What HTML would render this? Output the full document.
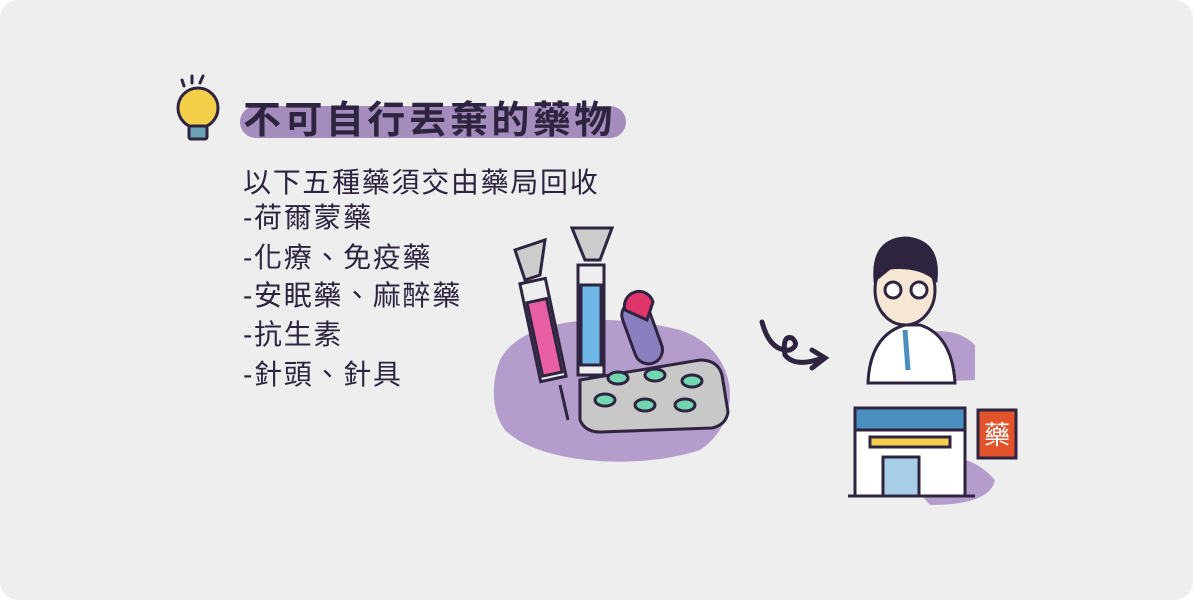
<!DOCTYPE html>
<html><head><meta charset="utf-8"><style>
body{margin:0;width:1193px;height:600px;background:#fff;overflow:hidden;font-family:"Liberation Sans","Noto Sans CJK TC",sans-serif;}
#card{position:absolute;left:0;top:0;width:1193px;height:600px;border-radius:18px;background:#efeeee;}
.t{position:absolute;color:#2e2440;white-space:nowrap;}
#title{left:243px;top:96px;font-size:38px;font-weight:bold;letter-spacing:3.4px;line-height:50px;}
#hl{position:absolute;left:240px;top:106px;width:386px;height:32px;background:#a48cbd;border-radius:16px;}
.l{left:243px;font-size:28px;line-height:36px;letter-spacing:1.7px;}
</style></head><body>
<div id="card">
<div id="hl"></div>
<div class="t" id="title">不可自行丟棄的藥物</div>
<div class="t l" style="top:165px">以下五種藥須交由藥局回收</div>
<div class="t l" style="top:200px">-荷爾蒙藥</div>
<div class="t l" style="top:240px">-化療、免疫藥</div>
<div class="t l" style="top:278px">-安眠藥、麻醉藥</div>
<div class="t l" style="top:317px">-抗生素</div>
<div class="t l" style="top:357px">-針頭、針具</div>
<svg width="1193" height="600" style="position:absolute;left:0;top:0">
<g stroke="#2e2440" stroke-width="3" stroke-linecap="round">
<line x1="182" y1="80" x2="184" y2="86"/><line x1="192" y1="76" x2="192" y2="83"/><line x1="203" y1="76" x2="200" y2="83"/>
<circle cx="198" cy="108" r="20" fill="#f4cf4a"/>
<rect x="189" y="126" width="18" height="13" fill="#6aa3b5" rx="2"/>
</g>
<path d="M500,360 C520,320 600,310 680,330 C740,350 745,420 700,450 C640,470 540,465 505,430 C490,410 492,380 500,360Z" fill="#b49ccc"/>
<g stroke="#2e2440" stroke-width="3">
<rect x="530" y="280" width="26" height="100" fill="#eee" transform="rotate(-12 543 330)"/>
<rect x="533" y="300" width="20" height="75" fill="#e85fa3" transform="rotate(-12 543 330)"/>
<line x1="560" y1="385" x2="568" y2="420"/>
<path d="M515,250 L545,240 L540,275 L525,280Z" fill="#ccc"/>
</g>
<g stroke="#2e2440" stroke-width="3">
<rect x="578" y="265" width="26" height="110" fill="#eee"/>
<rect x="581" y="285" width="20" height="80" fill="#6fb8e5"/>
<line x1="591" y1="375" x2="591" y2="410"/>
<path d="M572,228 L612,228 L600,260 L585,260Z" fill="#ccc"/>
</g>
<g stroke="#2e2440" stroke-width="3">
<rect x="628" y="300" width="28" height="65" rx="14" fill="#8a7fbf" transform="rotate(-20 642 332)"/>
<path d="M625,310 a14,14 0 0 1 28,-8 l-6,18 z" fill="#e0356b"/>
</g>
<g stroke="#2e2440" stroke-width="3">
<path d="M580,380 L700,360 Q718,360 722,375 L728,412 Q726,425 712,428 L600,432 Q585,432 580,420Z" fill="#c8c8c8"/>
<ellipse cx="618" cy="378" rx="10" ry="6" fill="#72d6b0"/><ellipse cx="655" cy="375" rx="10" ry="6" fill="#72d6b0"/><ellipse cx="692" cy="381" rx="10" ry="6" fill="#72d6b0"/>
<ellipse cx="605" cy="400" rx="10" ry="6" fill="#72d6b0"/><ellipse cx="645" cy="405" rx="10" ry="6" fill="#72d6b0"/><ellipse cx="685" cy="405" rx="10" ry="6" fill="#72d6b0"/>
</g>
<path d="M762,322 Q770,352 790,350 Q800,345 792,338 Q782,335 785,355 Q795,368 823,358 M812,350 L825,358 L812,368" fill="none" stroke="#2e2440" stroke-width="5" stroke-linecap="round"/>
<g stroke="#2e2440" stroke-width="3">
<path d="M900,340 Q950,320 975,345 L975,380 L900,383Z" fill="#b49ccc" stroke="none"/>
<path d="M868,383 Q870,335 905,325 L920,325 Q952,335 955,383Z" fill="#fff"/>
<line x1="905" y1="330" x2="908" y2="370" stroke="#4a8fc0" stroke-width="5"/>
<ellipse cx="905" cy="290" rx="30" ry="35" fill="#f6e6d4"/>
<path d="M875,280 Q872,240 905,238 Q940,240 936,280 Q920,265 890,268Z" fill="#2e2440"/>
<circle cx="893" cy="290" r="8" fill="#fff"/><circle cx="919" cy="290" r="8" fill="#fff"/>
</g>
<g stroke="#2e2440" stroke-width="3">
<path d="M900,470 Q960,440 995,480 Q990,505 930,505Z" fill="#b49ccc" stroke="none"/>
<rect x="855" y="408" width="110" height="88" fill="#fff"/>
<rect x="855" y="408" width="110" height="22" fill="#4a8fc0"/>
<rect x="870" y="437" width="80" height="10" fill="#f4cf4a"/>
<rect x="883" y="457" width="36" height="39" fill="#a8cfe8"/>
<line x1="848" y1="496" x2="975" y2="496"/>
<rect x="978" y="410" width="38" height="48" fill="#e2522b"/>
<text x="997" y="444" font-size="26" fill="#fff" stroke="none" text-anchor="middle" font-family="Noto Sans CJK TC, sans-serif">藥</text>
</g>
</svg>
</div>
</body></html>
